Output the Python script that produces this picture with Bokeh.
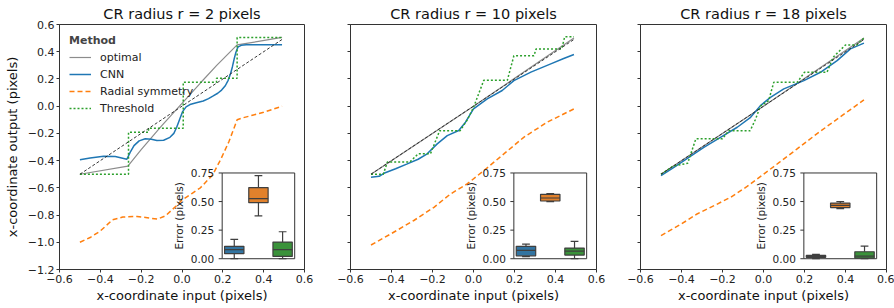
import numpy as np
from bokeh.plotting import figure
from bokeh.models import Range1d, FixedTicker, Legend, LegendItem
from bokeh.layouts import row
from bokeh.core.properties import value
from bokeh.embed import file_html
from bokeh.resources import INLINE

# ---------------- data ----------------
radii = [2, 10, 18]
x_ticks = [-0.6, -0.4, -0.2, 0.0, 0.2, 0.4, 0.6]
x_tick_labels = ["\u22120.6", "\u22120.4", "\u22120.2", "0.0", "0.2", "0.4", "0.6"]
y_ticks = [-1.2, -1.0, -0.8, -0.6, -0.4, -0.2, 0.0, 0.2, 0.4, 0.6]
y_tick_labels = ["\u22121.2", "\u22121.0", "\u22120.8", "\u22120.6", "\u22120.4", "\u22120.2",
                 "0.0", "0.2", "0.4", "0.6"]
inset_ticks = [0.0, 0.25, 0.5, 0.75]
inset_tick_labels = ["0.00", "0.25", "0.50", "0.75"]
methods = ["CNN", "Radial symmetry", "Threshold"]

identity_x = [-0.5, 0.49]
identity_y = [-0.5, 0.49]

# r = 2
r2_opt_x = [-0.5, -0.265, -0.2, -0.1, 0.0, 0.09, 0.17, 0.27, 0.49]
r2_opt_y = [-0.5, -0.44, -0.32, -0.145, 0.02, 0.17, 0.30, 0.45, 0.505]
r2_cnn_x = [-0.5, -0.45, -0.384, -0.327, -0.27, -0.254, -0.235, -0.21, -0.18, -0.15, -0.123,
            -0.09, -0.059, -0.04, -0.026, -0.01, 0.003, 0.02, 0.039, 0.07, 0.104, 0.13, 0.153,
            0.175, 0.194, 0.212, 0.226, 0.238, 0.247, 0.256, 0.263, 0.27, 0.275, 0.29, 0.315,
            0.4, 0.49]
r2_cnn_y = [-0.393, -0.38, -0.368, -0.37, -0.39, -0.34, -0.29, -0.255, -0.24, -0.243, -0.252,
            -0.25, -0.229, -0.2, -0.155, -0.09, -0.04, -0.005, 0.012, 0.025, 0.038, 0.055, 0.075,
            0.095, 0.118, 0.15, 0.19, 0.24, 0.29, 0.35, 0.39, 0.42, 0.435, 0.447, 0.452, 0.452,
            0.452]
r2_rad_x = [-0.5, -0.45, -0.4, -0.34, -0.29, -0.22, -0.17, -0.12, -0.08, -0.03, 0.0, 0.05, 0.09,
            0.15, 0.19, 0.23, 0.27, 0.3, 0.35, 0.4, 0.45, 0.49]
r2_rad_y = [-1.0, -0.965, -0.917, -0.835, -0.815, -0.81, -0.82, -0.83, -0.805, -0.735, -0.69,
            -0.64, -0.6, -0.505, -0.39, -0.26, -0.1, -0.085, -0.065, -0.045, -0.02, 0.0]
r2_thr_x = [-0.5, -0.262, -0.262, -0.164, -0.164, 0.006, 0.006, 0.169, 0.169, 0.27, 0.27, 0.49]
r2_thr_y = [-0.5, -0.5, -0.192, -0.192, -0.162, -0.162, 0.176, 0.176, 0.205, 0.205, 0.504, 0.504]

# r = 10
r10_opt_x = [-0.5, 0.0, 0.49]
r10_opt_y = [-0.5, 0.0, 0.5]
r10_cnn_x = [-0.5, -0.46, -0.437, -0.38, -0.323, -0.27, -0.226, -0.177, -0.128, -0.072, -0.039,
             0.0, 0.067, 0.14, 0.197, 0.28, 0.377, 0.44, 0.49]
r10_cnn_y = [-0.523, -0.515, -0.493, -0.46, -0.424, -0.39, -0.35, -0.277, -0.216, -0.179, -0.118,
             -0.02, 0.054, 0.115, 0.188, 0.25, 0.311, 0.35, 0.38]
r10_rad_x = [-0.5, -0.405, -0.291, -0.193, -0.112, -0.031, 0.05, 0.148, 0.245, 0.359, 0.49]
r10_rad_y = [-1.02, -0.94, -0.84, -0.743, -0.645, -0.571, -0.474, -0.351, -0.229, -0.118, -0.02]
r10_thr_x = [-0.5, -0.44, -0.42, -0.31, -0.27, -0.21, -0.165, -0.065, -0.03, 0.0, 0.05, 0.165,
             0.197, 0.295, 0.305, 0.43, 0.445, 0.49]
r10_thr_y = [-0.5, -0.5, -0.41, -0.41, -0.35, -0.35, -0.18, -0.18, -0.1, -0.01, 0.19, 0.19,
             0.37, 0.37, 0.42, 0.42, 0.51, 0.51]

# r = 18
r18_opt_x = [-0.5, 0.0, 0.49]
r18_opt_y = [-0.5, 0.0, 0.5]
r18_cnn_x = [-0.5, -0.437, -0.364, -0.291, -0.21, -0.128, -0.063, -0.015, 0.034, 0.099, 0.197,
             0.278, 0.359, 0.424, 0.49]
r18_cnn_y = [-0.51, -0.449, -0.376, -0.302, -0.229, -0.155, -0.082, 0.004, 0.065, 0.127, 0.188,
             0.249, 0.335, 0.421, 0.463]
r18_rad_x = [-0.5, -0.4, -0.324, -0.24, -0.161, -0.08, 0.0, 0.08, 0.164, 0.25, 0.327, 0.41, 0.49]
r18_rad_y = [-0.951, -0.865, -0.792, -0.73, -0.67, -0.59, -0.50, -0.41, -0.314, -0.215, -0.13,
             -0.04, 0.046]
r18_thr_x = [-0.5, -0.47, -0.44, -0.37, -0.33, -0.2, -0.17, -0.065, -0.04, -0.015, 0.025, 0.05,
             0.165, 0.2, 0.31, 0.34, 0.4, 0.455, 0.49]
r18_thr_y = [-0.5, -0.47, -0.44, -0.42, -0.24, -0.24, -0.18, -0.18, -0.1, 0.0, 0.04, 0.175,
             0.175, 0.25, 0.25, 0.36, 0.45, 0.45, 0.5]

# box stats: [CNN, Radial symmetry, Threshold]
r2_low = [0.0, 0.374, 0.0]
r2_q1 = [0.044, 0.49, 0.02]
r2_med = [0.079, 0.525, 0.079]
r2_q3 = [0.108, 0.622, 0.146]
r2_high = [0.169, 0.727, 0.236]

r10_low = [0.018, 0.499, 0.0]
r10_q1 = [0.025, 0.505, 0.032]
r10_med = [0.073, 0.531, 0.067]
r10_q3 = [0.108, 0.563, 0.093]
r10_high = [0.128, 0.569, 0.152]

r18_low = [0.0, 0.438, 0.0]
r18_q1 = [0.012, 0.447, 0.006]
r18_med = [0.02, 0.467, 0.023]
r18_q3 = [0.029, 0.487, 0.061]
r18_high = [0.038, 0.499, 0.111]

# ---------------- styling ----------------
FONT = "DejaVu Sans"
C_OPT = "#8c8c8c"
C_CNN = "#1f77b4"
C_RAD = "#ff7f0e"
C_THR = "#2ca02c"
BOX_COLORS = ["#3274a1", "#e1812c", "#3a923a"]
EDGE = "#3f3f3f"
SPINE = "#333333"
HEIGHT = 308

INSET_XLIM = (-0.5, 2.5)
INSET_YLIM = (0.0, 0.75)
INSET_FX = (0.664, 0.96)   # fraction of frame width
INSET_FY = (0.044, 0.394)  # fraction of frame height (from bottom)


def extra_range(lim, frac):
    span = (lim[1] - lim[0]) / (frac[1] - frac[0])
    start = lim[0] - frac[0] * span
    return Range1d(start, start + span)


def panel(idx, r, opt, cnn, rad, thr, stats, width, bl, br):
    p = figure(width=width, height=HEIGHT, x_range=Range1d(-0.6, 0.6), y_range=Range1d(-1.2, 0.6),
               output_backend="svg", toolbar_location=None, tools="",
               min_border_left=bl, min_border_right=br, min_border_top=24, min_border_bottom=39)
    p.title.text = "CR radius r = %d pixels" % r
    p.title.align = "center"
    p.title.text_font = FONT
    p.title.text_font_size = "14.5px"
    p.title.text_font_style = "normal"
    p.title.text_color = "#111111"
    p.title.standoff = 5
    p.xgrid.visible = False
    p.ygrid.visible = False
    p.outline_line_color = SPINE
    p.outline_line_width = 1
    p.background_fill_color = "white"
    p.border_fill_color = "white"

    for ax in (p.xaxis, p.yaxis):
        ax.axis_line_color = SPINE
        ax.major_tick_line_color = SPINE
        ax.major_tick_in = 0
        ax.major_tick_out = 3
        ax.minor_tick_in = 0
        ax.minor_tick_out = 0
        ax.major_label_text_font = FONT
        ax.major_label_text_font_size = "11px"
        ax.major_label_text_color = "#222222"
        ax.axis_label_text_font = FONT
        ax.axis_label_text_font_size = "13px"
        ax.axis_label_text_font_style = "normal"
        ax.axis_label_text_color = "#111111"
        ax.major_label_standoff = 2
        ax.axis_label_standoff = 2
    p.xaxis.ticker = FixedTicker(ticks=x_ticks)
    p.xaxis.major_label_overrides = dict(zip(x_ticks, x_tick_labels))
    p.xaxis.axis_label = "x-coordinate input (pixels)"
    p.yaxis.ticker = FixedTicker(ticks=y_ticks)
    if idx == 0:
        p.yaxis.major_label_overrides = dict(zip(y_ticks, y_tick_labels))
        p.yaxis.axis_label = "x-coordinate output (pixels)"
        p.yaxis.axis_label_standoff = 5
    else:
        p.yaxis.major_label_overrides = {t: "" for t in y_ticks}
        p.yaxis.major_label_text_font_size = "0px"

    r_opt = p.line(opt[0], opt[1], line_color=C_OPT, line_width=1.2)
    r_cnn = p.line(cnn[0], cnn[1], line_color=C_CNN, line_width=1.5)
    r_rad = p.line(rad[0], rad[1], line_color=C_RAD, line_width=1.5, line_dash="5 3")
    r_thr = p.line(thr[0], thr[1], line_color=C_THR, line_width=1.5, line_dash="2 2")
    p.line(identity_x, identity_y, line_color="#222222", line_width=0.9, line_dash="3 2")

    if idx == 0:
        leg = Legend(items=[LegendItem(label="optimal", renderers=[r_opt]),
                            LegendItem(label="CNN", renderers=[r_cnn]),
                            LegendItem(label="Radial symmetry", renderers=[r_rad]),
                            LegendItem(label="Threshold", renderers=[r_thr])],
                     location="top_left", title="Method")
        leg.title_text_font = FONT
        leg.title_text_font_size = "11px"
        leg.title_text_font_style = "bold"
        leg.title_standoff = 3
        leg.label_text_font = FONT
        leg.label_text_font_size = "11px"
        leg.label_text_color = "#222222"
        leg.border_line_alpha = 0
        leg.background_fill_alpha = 0
        leg.glyph_width = 22
        leg.glyph_height = 14
        leg.label_height = 14
        leg.spacing = 3
        leg.label_standoff = 9
        leg.margin = 3
        leg.padding = 7
        p.add_layout(leg)

    # ----- inset box plot -----
    p.extra_x_ranges = {"ix": extra_range(INSET_XLIM, INSET_FX)}
    p.extra_y_ranges = {"iy": extra_range(INSET_YLIM, INSET_FY)}
    kw = dict(x_range_name="ix", y_range_name="iy")
    p.quad(left=[INSET_XLIM[0]], right=[INSET_XLIM[1]], bottom=[INSET_YLIM[0]], top=[INSET_YLIM[1]],
           fill_color="white", line_color=SPINE, line_width=1, **kw)
    low, q1, med, q3, high = stats
    pos = np.arange(len(methods))
    half = 0.4
    cap = 0.16
    p.segment(x0=pos, y0=q3, x1=pos, y1=high, line_color=EDGE, line_width=1.2, **kw)
    p.segment(x0=pos, y0=q1, x1=pos, y1=low, line_color=EDGE, line_width=1.2, **kw)
    p.segment(x0=pos - cap, y0=high, x1=pos + cap, y1=high, line_color=EDGE, line_width=1.2, **kw)
    p.segment(x0=pos - cap, y0=low, x1=pos + cap, y1=low, line_color=EDGE, line_width=1.2, **kw)
    p.quad(left=pos - half, right=pos + half, bottom=q1, top=q3, fill_color=BOX_COLORS,
           line_color=EDGE, line_width=1.2, **kw)
    p.segment(x0=pos - half, y0=med, x1=pos + half, y1=med, line_color=EDGE, line_width=1.2, **kw)
    p.ray(x=[INSET_XLIM[0]] * len(inset_ticks), y=inset_ticks, length=3.5, length_units="screen",
          angle=np.pi, line_color=SPINE, line_width=1, **kw)
    p.text(x=[INSET_XLIM[0]] * len(inset_ticks), y=inset_ticks, text=inset_tick_labels,
           x_offset=-8, text_align="right", text_baseline="middle", text_font=value(FONT),
           text_font_size="10.5px", text_color="#222222", **kw)
    p.text(x=[INSET_XLIM[0]], y=[sum(INSET_YLIM) / 2], text=["Error (pixels)"], angle=np.pi / 2,
           x_offset=-37, text_align="center", text_baseline="bottom", text_font=value(FONT),
           text_font_size="10.5px", text_color="#222222", **kw)
    return p


p1 = panel(0, radii[0], (r2_opt_x, r2_opt_y), (r2_cnn_x, r2_cnn_y), (r2_rad_x, r2_rad_y),
           (r2_thr_x, r2_thr_y), (r2_low, r2_q1, r2_med, r2_q3, r2_high), 327, 59, 23)
p2 = panel(1, radii[1], (r10_opt_x, r10_opt_y), (r10_cnn_x, r10_cnn_y), (r10_rad_x, r10_rad_y),
           (r10_thr_x, r10_thr_y), (r10_low, r10_q1, r10_med, r10_q3, r10_high), 291, 23, 22)
p3 = panel(2, radii[2], (r18_opt_x, r18_opt_y), (r18_cnn_x, r18_cnn_y), (r18_rad_x, r18_rad_y),
           (r18_thr_x, r18_thr_y), (r18_low, r18_q1, r18_med, r18_q3, r18_high), 276, 22, 8)

layout = row(p1, p2, p3)
open("out.html", "w").write(file_html(layout, INLINE))
